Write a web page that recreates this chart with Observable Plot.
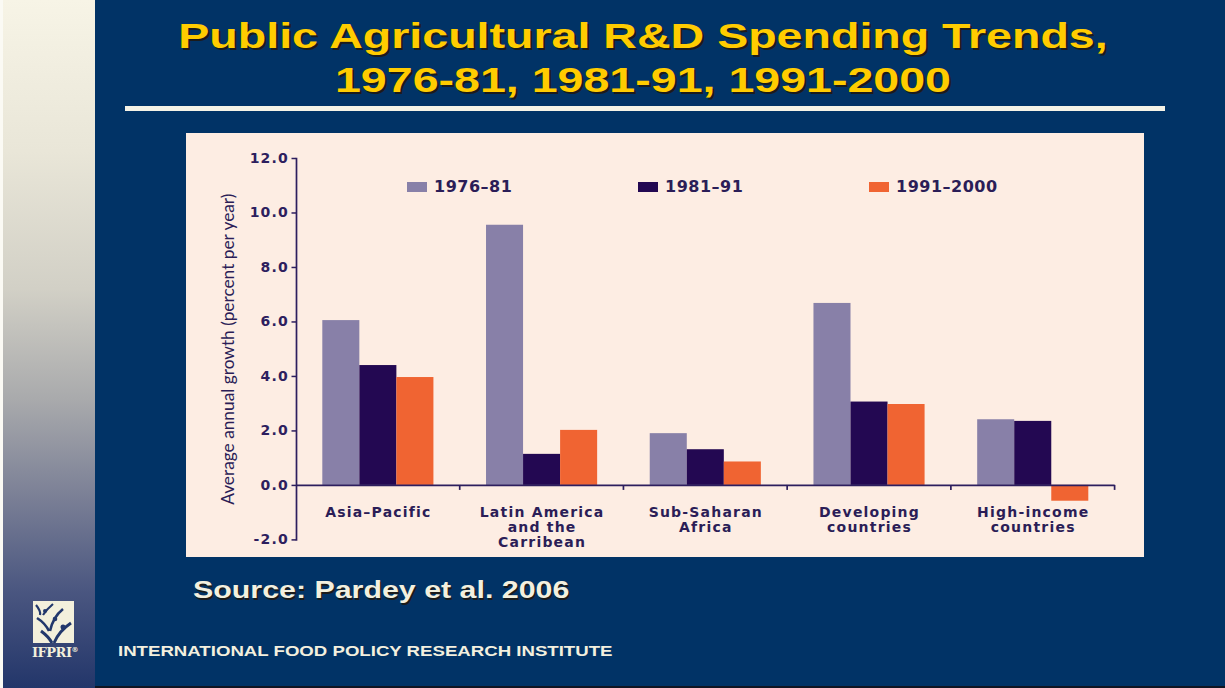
<!DOCTYPE html>
<html>
<head>
<meta charset="utf-8">
<script src="https://cdn.jsdelivr.net/npm/d3@7"></script>
<script src="https://cdn.jsdelivr.net/npm/@observablehq/plot@0.6"></script>
<style>
  html, body { margin: 0; padding: 0; width: 1225px; height: 688px; overflow: hidden; background: #013366; }
  #slide { position: relative; width: 1225px; height: 688px; background: #013366; overflow: hidden; }
  #strip { position: absolute; left: 0; top: 0; width: 92px; height: 688px; border-left: 3px solid #FBFAF4;
    background: linear-gradient(to bottom, #F7F4E6 0%, #E9E6D8 22%, #D2D0C6 42%, #A9AAAC 58%, #7B8096 72%, #4A5680 86%, #23366A 100%); }
  #bottomline { position: absolute; left: 95px; top: 686px; width: 1130px; height: 2px; background: #101522; }
  .title { position: absolute; left: 143px; top: 14px; width: 1000px; text-align: center;
    font-family: "Liberation Sans", Arial, sans-serif; font-weight: bold; font-size: 35px; line-height: 44px;
    color: #FFCC00; text-shadow: 1.5px 2px 0 #1b1b1b; transform: scaleX(1.33); transform-origin: 500px 0; white-space: nowrap; }
  #rule { position: absolute; left: 125px; top: 106px; width: 1040px; height: 5px; background: #F5F3E6; }
  #panel { position: absolute; left: 186px; top: 133px; width: 958px; height: 424px; background: #FDEDE3; }
  #chart { position: absolute; left: 0; top: 0; }
  #legend { position: absolute; left: 221px; top: 46px; display: flex; align-items: center;
    font-family: "DejaVu Sans", sans-serif; font-weight: bold; font-size: 16px; line-height: 16px; color: #2B1D57; letter-spacing: 0.5px; }
  #legend .item { display: flex; align-items: center; width: 231px; }
  #legend .sw { width: 20px; height: 10px; margin-right: 7px; }
  .source { position: absolute; left: 193px; top: 579px; font-family: "Liberation Sans", Arial, sans-serif; font-weight: bold;
    font-size: 23px; line-height: 23px; color: #F3F0DF; text-shadow: 1px 1.5px 0 #1b1b1b; transform: scaleX(1.32); transform-origin: 0 0; white-space: nowrap; }
  .footer { position: absolute; left: 118px; top: 644px; font-family: "Liberation Sans", Arial, sans-serif; font-weight: bold;
    font-size: 14px; line-height: 14px; color: #F3F0DF; transform: scaleX(1.33); transform-origin: 0 0; white-space: nowrap; }
  #logo { position: absolute; left: 33px; top: 601px; }
  #logotext { position: absolute; left: 32px; top: 643px; font-family: "DejaVu Serif", serif; font-weight: bold; font-size: 13px;
    line-height: 14px; color: #F3F0DC; letter-spacing: -0.5px; }
  svg g[font-family="DejaVu Sans"] text { letter-spacing: 1.2px; }
</style>
</head>
<body>
<div id="slide">
  <div id="strip"></div>
  <div id="bottomline"></div>
  <div class="title">Public Agricultural R&amp;D Spending Trends,<br>1976-81, 1981-91, 1991-2000</div>
  <div id="rule"></div>
  <div id="panel">
    <div id="chart"></div>
    <div id="legend"></div>
  </div>
  <div class="source">Source: Pardey et al. 2006</div>
  <svg id="logo" width="41" height="42" viewBox="0 0 41 42">
    <rect width="41" height="42" fill="#F3F0DC"/>
    <path d="M3 4 Q8 10 7 14" stroke="#22386C" stroke-width="2.2" fill="none"/>
    <path d="M20 3 Q14 8 10 14" stroke="#22386C" stroke-width="2.2" fill="none"/>
    <path d="M4 17 Q12 22 16 30" stroke="#22386C" stroke-width="2.6" fill="none"/>
    <path d="M30 8 Q20 16 17 30" stroke="#22386C" stroke-width="2.6" fill="none"/>
    <path d="M8 30 Q16 36 19 42" stroke="#22386C" stroke-width="3" fill="none"/>
    <path d="M38 22 Q26 30 21 42" stroke="#22386C" stroke-width="3" fill="none"/>
    <circle cx="12" cy="10" r="2" fill="#22386C"/>
    <circle cx="22" cy="18" r="2.3" fill="#22386C"/>
    <circle cx="30" cy="26" r="2.5" fill="#22386C"/>
  </svg>
  <div id="logotext">IFPRI<sup style="font-size:7px">®</sup></div>
  <div class="footer">INTERNATIONAL FOOD POLICY RESEARCH INSTITUTE</div>
</div>
<script>
// ---- Data ----
const regions = ["Asia–Pacific", "Latin America and the Carribean", "Sub-Saharan Africa", "Developing countries", "High-income countries"];
const regionLabels = ["Asia–Pacific", "Latin America\nand the\nCarribean", "Sub-Saharan\nAfrica", "Developing\ncountries", "High-income\ncountries"];
const periods = ["1976–81", "1981–91", "1991–2000"];
const growth1976_81 = [6.05, 9.55, 1.90, 6.68, 2.41];
const growth1981_91 = [4.40, 1.14, 1.31, 3.06, 2.35];
const growth1991_2000 = [3.96, 2.02, 0.86, 2.97, -0.58];
const yTicks = [-2, 0, 2, 4, 6, 8, 10, 12];
const periodColors = ["#8880A8", "#230852", "#F06432"];
const yLabel = "Average annual growth (percent per year)";

const axisColor = "#2D1E5E";
const textColor = "#2B1D57";

const seriesValues = [growth1976_81, growth1981_91, growth1991_2000];
const rows = [];
regions.forEach((r, i) => periods.forEach((p, k) => rows.push({region: r, period: p, value: seriesValues[k][i]})));

// boundary tick at the right edge of each facet, below the zero line
function boundaryTick(index, scales, values, dimensions) {
  const {width, marginRight} = dimensions;
  const y0 = scales.y(0);
  const line = document.createElementNS("http://www.w3.org/2000/svg", "line");
  const xr = width - marginRight;
  line.setAttribute("x1", xr); line.setAttribute("x2", xr);
  line.setAttribute("y1", y0); line.setAttribute("y2", y0 + 5);
  line.setAttribute("stroke", axisColor); line.setAttribute("stroke-width", 1.7);
  return line;
}

const chart = Plot.plot({
  width: 958,
  height: 424,
  marginLeft: 110,
  marginRight: 29.4,
  marginTop: 25,
  marginBottom: 17.6,
  style: {background: "transparent", color: axisColor, overflow: "visible"},
  fx: {domain: regions, paddingInner: 0, paddingOuter: 0, round: false, axis: null, label: null},
  x: {domain: periods, paddingInner: 0, paddingOuter: 0.71, round: false, axis: null},
  y: {domain: [-2, 12]},
  color: {domain: periods, range: periodColors},
  marks: [
    Plot.barY(rows, {fx: "region", x: "period", y: "value", fill: "period"}),
    Plot.ruleY([0], {stroke: axisColor, strokeWidth: 1.7}),
    boundaryTick,
    Plot.frame({anchor: "left", facetAnchor: "left", stroke: axisColor, strokeWidth: 1.7}),
    Plot.axisY({ticks: yTicks, tickFormat: d => d.toFixed(1), tickSize: 4.5, tickPadding: 3, label: null,
      fontSize: 14, fontWeight: "bold", fontFamily: "DejaVu Sans", color: axisColor, strokeWidth: 1.5}),
    Plot.text([yLabel], {fx: () => regions[0], frameAnchor: "left", textAnchor: "middle", lineAnchor: "middle",
      rotate: -90, dx: -68, fontSize: 17.3, fontFamily: "Lato", fill: textColor}),
    Plot.text(regions, {fx: d => d, y: () => 0, text: (d, i) => regionLabels[i], frameAnchor: "middle",
      lineAnchor: "top", dy: 21, lineHeight: 1.07, fontSize: 14, fontWeight: "bold", fontFamily: "DejaVu Sans", fill: textColor})
  ]
});
document.getElementById("chart").appendChild(chart);

// legend
const legend = document.getElementById("legend");
periods.forEach((p, k) => {
  const item = document.createElement("div");
  item.className = "item";
  const sw = document.createElement("div");
  sw.className = "sw";
  sw.style.background = periodColors[k];
  const t = document.createElement("span");
  t.textContent = p;
  item.appendChild(sw); item.appendChild(t);
  legend.appendChild(item);
});
</script>
</body>
</html>
